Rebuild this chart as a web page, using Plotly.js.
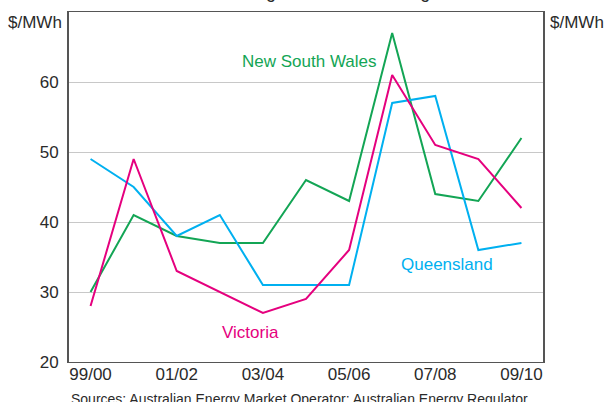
<!DOCTYPE html>
<html>
<head>
<meta charset="utf-8">
<script src="https://cdn.plot.ly/plotly-3.0.1.min.js"></script>
<style>html,body{margin:0;padding:0;background:#fff;}#chart{width:605px;height:402px;}</style>
</head>
<body>
<div id="chart"></div>
<script>
const years = ['99/00','00/01','01/02','02/03','03/04','04/05','05/06','06/07','07/08','08/09','09/10'];
const tickLabels = ['99/00','01/02','03/04','05/06','07/08','09/10'];
const yTicks = [20, 30, 40, 50, 60];
const nsw = [30, 41, 38, 37, 37, 46, 43, 67, 44, 43, 52];
const qld = [49, 45, 38, 41, 31, 31, 31, 57, 58, 36, 37];
const vic = [28, 49, 33, 30, 27, 29, 36, 61, 51, 49, 42];
const seriesNames = ['New South Wales', 'Queensland', 'Victoria'];
const colors = ['#13a555', '#00b0f0', '#e5007e'];

const FONT = 'Arial, "Liberation Sans", sans-serif';
const TXT = '#2a2a2a';
const traces = [nsw, qld, vic].map((v, i) => ({
  type: 'scatter', mode: 'lines', x: years, y: v, name: seriesNames[i],
  line: {color: colors[i], width: 2}, xaxis: 'x', yaxis: 'y', hoverinfo: 'skip'
}));

const layout = {
  width: 605, height: 402,
  margin: {l: 69, r: 62, t: 12, b: 40, pad: 0},
  paper_bgcolor: '#fff', plot_bgcolor: '#fff',
  showlegend: false,
  font: {family: FONT, size: 17, color: TXT},
  xaxis: {
    type: 'category', categoryarray: years, range: [-0.5, 10.5],
    tickvals: tickLabels, ticktext: tickLabels, ticks: '',
    showgrid: false, zeroline: false,
    showline: true, mirror: true, linecolor: '#555', linewidth: 1,
    tickfont: {family: FONT, size: 17, color: TXT}, ticklabelstandoff: -3
  },
  xaxis2: {
    overlaying: 'x', anchor: 'y', side: 'bottom', type: 'linear', range: [-0.5, 10.5],
    tickvals: [0.5, 1.5, 2.5, 3.5, 4.5, 5.5, 6.5, 7.5, 8.5, 9.5],
    ticks: 'inside', ticklen: 5, tickwidth: 1, tickcolor: '#555',
    showticklabels: false, showgrid: false, zeroline: false, showline: false
  },
  yaxis: {
    range: [20, 70], tickvals: yTicks, ticks: '',
    showgrid: true, gridcolor: '#c8c8c8', gridwidth: 1, zeroline: false,
    showline: true, mirror: true, linecolor: '#555', linewidth: 2,
    tickfont: {family: FONT, size: 17, color: TXT}, ticklabelstandoff: 5
  },
  yaxis2: {
    overlaying: 'y', anchor: 'x', side: 'right', range: [20, 70], tickvals: yTicks, ticks: '',
    showgrid: false, zeroline: false, showline: false,
    tickfont: {family: FONT, size: 17, color: TXT}, ticklabelstandoff: 5
  },
  annotations: [
    {text: 'Volume-weighted annual average', xref: 'paper', yref: 'paper', x: 0.5, y: 1,
     xanchor: 'center', yanchor: 'middle', yshift: 20, showarrow: false,
     font: {family: FONT, size: 18, color: TXT}},
    {text: '$/MWh', xref: 'paper', yref: 'paper', x: 0, y: 1, xanchor: 'right', yanchor: 'middle',
     xshift: -5, yshift: -10, showarrow: false, font: {family: FONT, size: 17, color: TXT}},
    {text: '$/MWh', xref: 'paper', yref: 'paper', x: 1, y: 1, xanchor: 'left', yanchor: 'middle',
     xshift: 5, yshift: -10, showarrow: false, font: {family: FONT, size: 17, color: TXT}},
    {text: seriesNames[0], xref: 'x', yref: 'y', x: '04/05', y: 62.9, xanchor: 'center', yanchor: 'middle',
     xshift: 3, showarrow: false, font: {family: FONT, size: 17, color: colors[0]}},
    {text: seriesNames[1], xref: 'x', yref: 'y', x: '07/08', y: 34.0, xanchor: 'center', yanchor: 'middle',
     xshift: 12, showarrow: false, font: {family: FONT, size: 17, color: colors[1]}},
    {text: seriesNames[2], xref: 'x', yref: 'y', x: '03/04', y: 24.2, xanchor: 'center', yanchor: 'middle',
     xshift: -12, showarrow: false, font: {family: FONT, size: 17, color: colors[2]}},
    {text: 'Sources: Australian Energy Market Operator; Australian Energy Regulator',
     xref: 'paper', yref: 'paper', x: 0, y: 0, xanchor: 'left', yanchor: 'middle',
     xshift: 0, yshift: -37, showarrow: false, font: {family: FONT, size: 14, color: TXT}}
  ]
};

Plotly.newPlot('chart', traces, layout, {staticPlot: true, displayModeBar: false});
</script>
</body>
</html>
